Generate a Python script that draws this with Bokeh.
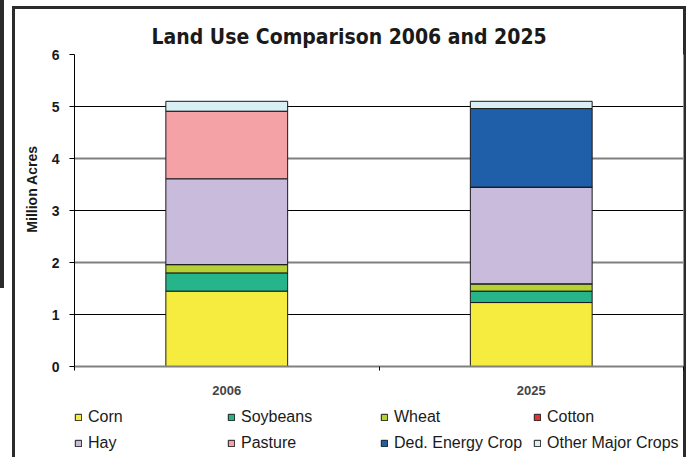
from bokeh.plotting import figure
from bokeh.layouts import column
from bokeh.models import (FixedTicker, Grid, Legend, LegendItem, Title, Range1d,
                          ColumnDataSource)
from bokeh.embed import file_html
from bokeh.resources import INLINE

# ---- data ----
years = ["2006", "2025"]
series = ["Corn", "Soybeans", "Wheat", "Cotton", "Hay", "Pasture",
          "Ded. Energy Crop", "Other Major Crops"]
corn = [1.45, 1.23]
soybeans = [0.35, 0.22]
wheat = [0.16, 0.14]
cotton = [0.0, 0.0]
hay = [1.65, 1.86]
pasture = [1.30, 0.0]
energy = [0.0, 1.51]
other = [0.19, 0.14]
y_ticks = [0, 1, 2, 3, 4, 5, 6]

colors = ["#F5EC3F", "#26B58A", "#B5D136", "#E83030", "#C9BBDB", "#F5A2A6",
          "#1F5FAA", "#D8F0F3"]
keys = ["corn", "soybeans", "wheat", "cotton", "hay", "pasture", "energy", "other"]

xpos = [i + 0.5 for i in range(len(years))]
source = ColumnDataSource(dict(x=xpos, corn=corn, soybeans=soybeans, wheat=wheat,
                               cotton=cotton, hay=hay, pasture=pasture,
                               energy=energy, other=other))

FONT = "Liberation Sans"
TFONT = "'DejaVu Sans Condensed', 'Liberation Sans Narrow', 'Liberation Sans'"
DARK = "#2b2b2b"
g = f"linear-gradient({DARK},{DARK})"

# ---------------- main chart ----------------
p = figure(output_backend="svg", toolbar_location=None,
           width=687, height=402,
           x_range=Range1d(0, len(years)), y_range=Range1d(0, 6),
           min_border_left=74, min_border_right=4, min_border_top=54,
           min_border_bottom=36)
p.frame_width = 609
p.frame_height = 312
p.border_fill_color = None
p.background_fill_color = "white"
p.styles = {"background": (f"{g} 0 0 / 4px 288px no-repeat, "
                           f"{g} 12px 6px / 3px 100% no-repeat, "
                           f"{g} 683px 6px / 3px 100% no-repeat, "
                           f"{g} 12px 6px / 674px 3px no-repeat, white")}

renderers = p.vbar_stack(keys, x="x", width=0.4, source=source, color=colors,
                         line_color="#1a1a1a", line_width=1)

# title
p.title.text = "Land Use Comparison 2006 and 2025"
p.title.text_font = TFONT
p.title.text_font_size = "21px"
p.title.text_font_style = "bold"
p.title.text_color = "#1a1a1a"
p.title.align = "left"
p.title.offset = 77
p.title.standoff = 11

# grids
p.xgrid.grid_line_color = None
p.ygrid.ticker = FixedTicker(ticks=[0, 2, 4, 6])
p.ygrid.grid_line_color = "#808080"
p.ygrid.grid_line_width = 2
g2 = Grid(dimension=1, ticker=FixedTicker(ticks=[1, 3, 5]),
          grid_line_color="#000000", grid_line_width=1)
p.add_layout(g2)
p.outline_line_color = None

# y axis
p.yaxis.ticker = FixedTicker(ticks=y_ticks)
p.yaxis.major_label_text_font = FONT
p.yaxis.major_label_text_font_style = "bold"
p.yaxis.major_label_text_font_size = "14px"
p.yaxis.major_label_text_color = "#1a1a1a"
p.yaxis.major_tick_out = 5
p.yaxis.major_tick_in = 0
p.yaxis.minor_tick_line_color = None
p.yaxis.axis_line_color = "#000000"
p.yaxis.major_label_standoff = 10

# x axis
p.xaxis.ticker = FixedTicker(ticks=xpos, minor_ticks=[0, 1, 2])
p.xaxis.major_label_overrides = {x: y for x, y in zip(xpos, years)}
p.xaxis.major_tick_line_color = None
p.xaxis.minor_tick_out = 4
p.xaxis.minor_tick_in = 0
p.xaxis.minor_tick_line_color = "#000000"
p.xaxis.axis_line_color = "#808080"
p.xaxis.axis_line_width = 2
p.xaxis.major_label_text_font = FONT
p.xaxis.major_label_text_font_style = "bold"
p.xaxis.major_label_text_font_size = "13px"
p.xaxis.major_label_standoff = 13

# y axis label as a side title
ytitle = Title(text="Million Acres", align="right", offset=91, standoff=18,
               text_font=FONT, text_font_style="bold", text_font_size="14px",
               text_color="#1a1a1a")
p.add_layout(ytitle, "left")

# ---------------- legend strip ----------------
pl = figure(output_backend="svg", toolbar_location=None,
            width=687, height=55, x_range=Range1d(0, len(years)),
            y_range=Range1d(10, 11), x_axis_type=None, y_axis_type=None,
            min_border_left=0, min_border_right=0, min_border_top=0,
            min_border_bottom=0)
pl.border_fill_color = None
pl.background_fill_color = None
pl.outline_line_color = None
pl.styles = {"background": (f"{g} 12px 0 / 3px 100% no-repeat, "
                            f"{g} 683px 0 / 3px 100% no-repeat, white")}
lrend = pl.vbar_stack(keys, x="x", width=0.4, source=source, color=colors,
                      line_color="#1a1a1a", line_width=1)

items = [LegendItem(label=s, renderers=[r]) for s, r in zip(series, lrend)]
legend = Legend(items=items, orientation="horizontal", ncols=4,
                location=(0, 5), glyph_width=8, glyph_height=8,
                label_standoff=6, label_width=131, label_height=18, spacing=8,
                padding=0, margin=0,
                label_text_font=FONT, label_text_font_size="16px",
                label_text_color="#1a1a1a", border_line_color=None,
                background_fill_alpha=0)
pl.add_layout(legend, "center")

layout = column(p, pl, spacing=0)
open("out.html", "w").write(file_html(layout, INLINE))
